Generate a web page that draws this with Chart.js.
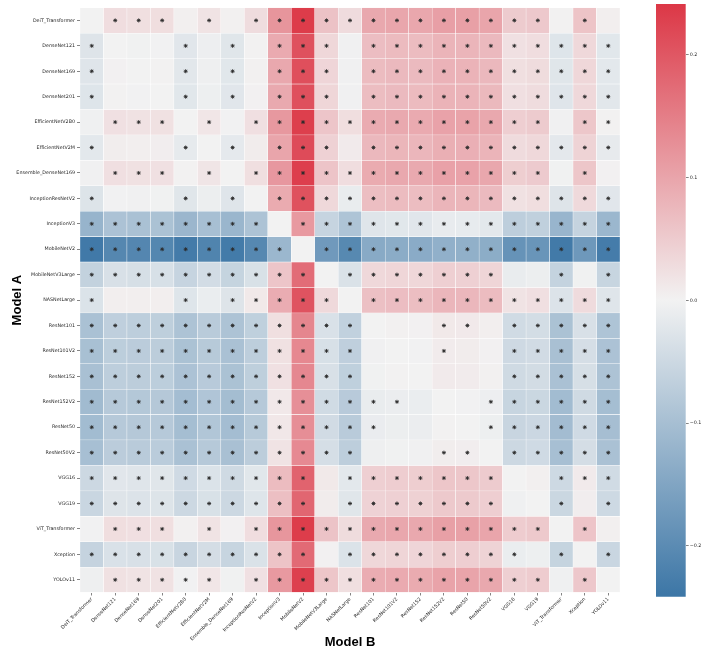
<!DOCTYPE html>
<html>
<head>
<meta charset="utf-8">
<script src="https://cdn.jsdelivr.net/npm/chart.js@4.4.1/dist/chart.umd.min.js"></script>
<style>
  html, body { margin: 0; padding: 0; background: #fff; }
  #wrap { position: relative; width: 708px; height: 661px; }
  #heat { position: absolute; left: 0; top: 0; width: 640px; height: 661px; }
  #cbar { position: absolute; left: 640px; top: 0; width: 68px; height: 661px; }
</style>
</head>
<body>
<div id="wrap">
  <canvas id="heat" width="640" height="661"></canvas>
  <canvas id="cbar" width="68" height="661"></canvas>
</div>
<script>
// models, same order for rows (Model A) and columns (Model B)
const models = ['DeiT_Transformer', 'DenseNet121', 'DenseNet169', 'DenseNet201', 'EfficientNetV2B0',
  'EfficientNetV2M', 'Ensemble_DenseNet169', 'InceptionResNetV2', 'InceptionV3', 'MobileNetV2',
  'MobileNetV3Large', 'NASNetLarge', 'ResNet101', 'ResNet101V2', 'ResNet152', 'ResNet152V2',
  'ResNet50', 'ResNet50V2', 'VGG16', 'VGG19', 'ViT_Transformer', 'Xception', 'YOLOv11'];

// one row of differences per Model A
const rowDeiT = [0, 0.027, 0.025, 0.026, 0.004, 0.020, 0.003, 0.028, 0.120, 0.235, 0.062, 0.030, 0.095, 0.098, 0.097, 0.107, 0.106, 0.100, 0.050, 0.054, 0.001, 0.060, 0.005];
const rowDN121 = [-0.027, 0, -0.002, -0.001, -0.023, -0.007, -0.024, 0.001, 0.093, 0.208, 0.035, -0.003, 0.068, 0.071, 0.070, 0.080, 0.079, 0.073, 0.023, 0.027, -0.026, 0.033, -0.022];
const rowDN169 = [-0.025, 0.002, 0, 0.001, -0.021, -0.005, -0.022, 0.003, 0.095, 0.210, 0.037, -0.003, 0.070, 0.073, 0.072, 0.082, 0.081, 0.075, 0.025, 0.029, -0.024, 0.035, -0.020];
const rowDN201 = [-0.026, 0.001, -0.001, 0, -0.022, -0.006, -0.023, 0.002, 0.094, 0.209, 0.036, -0.003, 0.069, 0.072, 0.071, 0.081, 0.080, 0.074, 0.024, 0.028, -0.025, 0.034, -0.021];
const rowEffB0 = [-0.004, 0.023, 0.021, 0.022, 0, 0.016, -0.001, 0.024, 0.116, 0.231, 0.058, 0.026, 0.091, 0.094, 0.093, 0.103, 0.102, 0.096, 0.046, 0.050, -0.003, 0.056, 0.001];
const rowEffM = [-0.020, 0.007, 0.005, 0.006, -0.016, 0, -0.017, 0.008, 0.100, 0.215, 0.042, 0.010, 0.075, 0.078, 0.077, 0.087, 0.086, 0.080, 0.030, 0.034, -0.019, 0.040, -0.015];
const rowEnsemble = [-0.003, 0.024, 0.022, 0.023, 0.001, 0.017, 0, 0.025, 0.117, 0.232, 0.059, 0.027, 0.092, 0.095, 0.094, 0.104, 0.103, 0.097, 0.047, 0.051, -0.002, 0.057, 0.002];
const rowIncRes = [-0.028, -0.001, -0.003, -0.002, -0.024, -0.008, -0.025, 0, 0.092, 0.207, 0.034, -0.012, 0.067, 0.070, 0.069, 0.079, 0.078, 0.072, 0.022, 0.026, -0.027, 0.032, -0.023];
const rowIncV3 = [-0.120, -0.093, -0.095, -0.094, -0.116, -0.100, -0.117, -0.092, 0, 0.115, -0.058, -0.090, -0.025, -0.022, -0.023, -0.013, -0.014, -0.020, -0.070, -0.066, -0.119, -0.060, -0.115];
const rowMobV2 = [-0.235, -0.208, -0.210, -0.209, -0.231, -0.215, -0.232, -0.207, -0.115, 0, -0.173, -0.205, -0.140, -0.137, -0.138, -0.128, -0.129, -0.135, -0.185, -0.181, -0.234, -0.175, -0.230];
const rowMobV3 = [-0.062, -0.035, -0.037, -0.036, -0.058, -0.042, -0.059, -0.034, 0.058, 0.173, 0, -0.032, 0.033, 0.036, 0.035, 0.045, 0.044, 0.038, -0.012, -0.008, -0.061, -0.002, -0.057];
const rowNAS = [-0.030, 0.005, 0.005, 0.005, -0.026, -0.010, -0.027, 0.012, 0.090, 0.205, 0.032, 0, 0.065, 0.068, 0.067, 0.077, 0.076, 0.070, 0.020, 0.024, -0.029, 0.030, -0.025];
const rowR101 = [-0.095, -0.068, -0.070, -0.069, -0.091, -0.075, -0.092, -0.067, 0.025, 0.140, -0.033, -0.065, 0, 0.003, 0.002, 0.012, 0.011, 0.005, -0.045, -0.041, -0.094, -0.035, -0.090];
const rowR101V2 = [-0.098, -0.071, -0.073, -0.072, -0.094, -0.078, -0.095, -0.070, 0.022, 0.137, -0.036, -0.068, -0.003, 0, -0.001, 0.009, 0.008, 0.002, -0.048, -0.044, -0.097, -0.038, -0.093];
const rowR152 = [-0.097, -0.070, -0.072, -0.071, -0.093, -0.077, -0.094, -0.069, 0.023, 0.138, -0.035, -0.067, -0.002, 0.001, 0, 0.010, 0.009, 0.003, -0.047, -0.043, -0.096, -0.037, -0.092];
const rowR152V2 = [-0.107, -0.080, -0.082, -0.081, -0.103, -0.087, -0.104, -0.079, 0.013, 0.128, -0.045, -0.077, -0.012, -0.009, -0.010, 0, -0.001, -0.007, -0.057, -0.053, -0.106, -0.047, -0.102];
const rowR50 = [-0.106, -0.079, -0.081, -0.080, -0.102, -0.086, -0.103, -0.078, 0.014, 0.129, -0.044, -0.076, -0.011, -0.008, -0.009, 0.001, 0, -0.006, -0.056, -0.052, -0.105, -0.046, -0.101];
const rowR50V2 = [-0.100, -0.073, -0.075, -0.074, -0.096, -0.080, -0.097, -0.072, 0.020, 0.135, -0.038, -0.070, -0.005, -0.002, -0.003, 0.007, 0.006, 0, -0.050, -0.046, -0.099, -0.040, -0.095];
const rowVGG16 = [-0.050, -0.023, -0.025, -0.024, -0.046, -0.030, -0.047, -0.022, 0.070, 0.185, 0.012, -0.020, 0.045, 0.048, 0.047, 0.057, 0.056, 0.050, 0, 0.004, -0.049, 0.010, -0.045];
const rowVGG19 = [-0.054, -0.027, -0.029, -0.028, -0.050, -0.034, -0.051, -0.026, 0.066, 0.181, 0.008, -0.024, 0.041, 0.044, 0.043, 0.053, 0.052, 0.046, -0.004, 0, -0.053, 0.006, -0.049];
const rowViT = [-0.001, 0.026, 0.024, 0.025, 0.003, 0.019, 0.002, 0.027, 0.119, 0.234, 0.061, 0.029, 0.094, 0.097, 0.096, 0.106, 0.105, 0.099, 0.049, 0.053, 0, 0.059, 0.004];
const rowXcep = [-0.060, -0.033, -0.035, -0.034, -0.056, -0.040, -0.057, -0.032, 0.060, 0.175, 0.002, -0.030, 0.035, 0.038, 0.037, 0.047, 0.046, 0.040, -0.010, -0.006, -0.059, 0, -0.055];
const rowYOLO = [-0.005, 0.022, 0.020, 0.021, -0.001, 0.015, -0.002, 0.023, 0.115, 0.230, 0.057, 0.025, 0.090, 0.093, 0.092, 0.102, 0.101, 0.095, 0.045, 0.049, -0.004, 0.055, 0];

const valueRows = [rowDeiT, rowDN121, rowDN169, rowDN201, rowEffB0, rowEffM, rowEnsemble, rowIncRes,
  rowIncV3, rowMobV2, rowMobV3, rowNAS, rowR101, rowR101V2, rowR152, rowR152V2, rowR50, rowR50V2,
  rowVGG16, rowVGG19, rowViT, rowXcep, rowYOLO];

// significance marks, one string per row ('*' = significant), spaces only for reading
const sigRows = [
  '.***.*.***** ****** **.*.',
  '*...*.*.***. ****** *****',
  '*...*.*.***. ****** *****',
  '*...*.*.***. ****** *****',
  '.***.*.***** ****** **.**',
  '*...*.*.***. ****** *****',
  '.***.*.***** ****** **.*.',
  '*...*.*.**** ****** *****',
  '********.*** ****** *****',
  '*********.** ****** *****',
  '**********.* ****** ..*.*',
  '*...*.*****. ****** *****',
  '************ ...**. *****',
  '************ ...*.. *****',
  '************ ...... *****',
  '************ **...* *****',
  '************ *....* *****',
  '************ ...**. *****',
  '**********.* ****** ..***',
  '**********.* ****** ..*.*',
  '.***.*.***** ****** **.*.',
  '**********.* ****** *.*.*',
  '.*****.***** ****** **.*.'
];

const cbTicks = [-0.2, -0.1, 0, 0.1, 0.2];
const vLimit = 0.2413;

// colormap ends (blue - light gray - red)
const blueEnd = [60, 118, 166];
const midGray = [242, 242, 242];
const redEnd = [220, 55, 70];

function cellColor(v) {
  let t = Math.max(-1, Math.min(1, v / vLimit));
  const end = t < 0 ? blueEnd : redEnd;
  t = Math.abs(t);
  const c = midGray.map((m, k) => Math.round(m + (end[k] - m) * t));
  return 'rgb(' + c[0] + ',' + c[1] + ',' + c[2] + ')';
}

const tickFont = { family: "'DejaVu Sans', sans-serif", size: 4.8 };
const titleFont = { family: "'Liberation Sans', Arial, sans-serif", size: 13, weight: 'bold' };
const tickColor = '#262626';

// one floating-bar dataset per row
const barSets = valueRows.map(function (row, r) {
  return {
    type: 'bar',
    label: models[r],
    data: row.map(() => [r - 0.5, r + 0.5]),
    backgroundColor: row.map(cellColor),
    borderColor: '#ffffff',
    borderWidth: 0.5,
    borderSkipped: false,
    grouped: false,
    categoryPercentage: 1,
    barPercentage: 1,
    order: 2
  };
});

const starPts = [];
sigRows.forEach(function (s, r) {
  s.replace(/ /g, '').split('').forEach(function (ch, c) {
    if (ch === '*') starPts.push({ x: models[c], y: r });
  });
});

const starSet = {
  type: 'scatter',
  label: 'sig',
  data: starPts,
  pointStyle: 'star',
  pointRadius: 2,
  borderColor: '#2a2a2a',
  backgroundColor: '#2a2a2a',
  borderWidth: 0.9,
  order: 1
};

new Chart(document.getElementById('heat'), {
  type: 'bar',
  data: { labels: models, datasets: [starSet].concat(barSets) },
  options: {
    responsive: false,
    animation: false,
    layout: { padding: { top: 7.7, right: 20, left: 0, bottom: 0 } },
    plugins: { legend: { display: false }, tooltip: { enabled: false } },
    scales: {
      x: {
        type: 'category',
        offset: true,
        afterFit: s => { s.height = 68.5; },
        ticks: { minRotation: 45, maxRotation: 45, autoSkip: false, font: tickFont, color: tickColor, padding: 1 },
        grid: { offset: false, drawOnChartArea: false, tickLength: 3, color: '#333', lineWidth: 0.6 },
        border: { display: false },
        title: { display: true, text: 'Model B', font: titleFont, color: '#000', padding: { top: 4, bottom: 11 } }
      },
      y: {
        type: 'linear',
        min: -0.5,
        max: 22.5,
        reverse: true,
        afterBuildTicks: s => { s.ticks = models.map((m, i) => ({ value: i })); },
        afterFit: s => { s.width = 80; },
        ticks: { autoSkip: false, font: tickFont, color: tickColor, padding: 2, callback: v => models[v] },
        grid: { drawOnChartArea: false, tickLength: 3, color: '#333', lineWidth: 0.6 },
        border: { display: false },
        title: { display: true, text: 'Model A', font: titleFont, color: '#000', padding: { top: 10, bottom: 0 } }
      }
    }
  }
});

// colour bar: one bar with a gradient fill along its own scale
function barGradient(ctx) {
  const chart = ctx.chart;
  const y = chart.scales.y;
  if (!chart.chartArea || !y) return cellColor(0);
  const g = chart.ctx.createLinearGradient(0, y.getPixelForValue(-vLimit), 0, y.getPixelForValue(vLimit));
  g.addColorStop(0, cellColor(-vLimit));
  g.addColorStop(0.5, cellColor(0));
  g.addColorStop(1, cellColor(vLimit));
  return g;
}

new Chart(document.getElementById('cbar'), {
  type: 'bar',
  data: {
    labels: [''],
    datasets: [{ data: [[-vLimit, vLimit]], backgroundColor: barGradient, borderWidth: 0, categoryPercentage: 1, barPercentage: 1 }]
  },
  options: {
    responsive: false,
    animation: false,
    layout: { padding: { left: 16, top: 3.3, bottom: 64.3, right: 0 } },
    plugins: { legend: { display: false }, tooltip: { enabled: false } },
    scales: {
      x: { display: false },
      y: {
        position: 'right',
        min: -vLimit,
        max: vLimit,
        afterBuildTicks: s => { s.ticks = cbTicks.map(v => ({ value: v })); },
        afterFit: s => { s.width = 22.3; },
        ticks: {
          font: tickFont, color: tickColor, padding: 1,
          callback: v => (v < 0 ? '\u2212' : '') + Math.abs(v).toFixed(1)
        },
        grid: { drawOnChartArea: false, tickLength: 3, color: '#333', lineWidth: 0.6 },
        border: { display: false }
      }
    }
  }
});
</script>
</body>
</html>
